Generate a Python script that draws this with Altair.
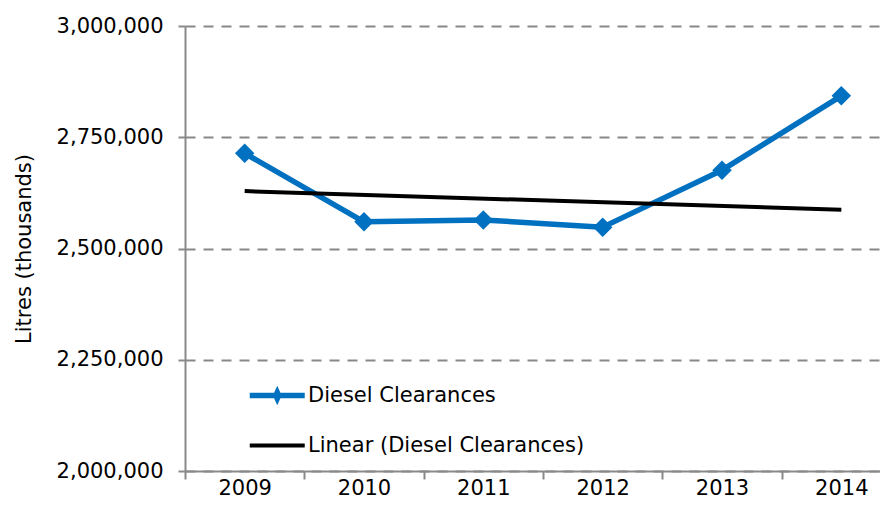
import altair as alt
import pandas as pd

years = ["2009", "2010", "2011", "2012", "2013", "2014"]
diesel = [2714000, 2560000, 2564000, 2548000, 2676000, 2843000]
trend_years = ["2009", "2014"]
trend_values = [2629000, 2587000]
y_ticks = [2000000, 2250000, 2500000, 2750000, 3000000]
series_names = ["Diesel Clearances", "Linear (Diesel Clearances)"]
colors = ["#0070C0", "#000000"]

df_d = pd.DataFrame({"year": years, "value": diesel, "series": series_names[0]})
df_t = pd.DataFrame({"year": trend_years, "value": trend_values, "series": series_names[1]})

FONT = "DejaVu Sans"
FS = 21
AXIS_GRAY = "#898989"

x_enc = alt.X(
    "year:O",
    scale=alt.Scale(type="band", domain=years, range=[0, 716], paddingInner=0, paddingOuter=0),
    axis=alt.Axis(
        title=None, tickBand="extent", labelAngle=0, grid=False,
        labelFont=FONT, labelFontSize=FS, labelColor="#000000",
        labelBaseline="alphabetic",
        domainColor=AXIS_GRAY, domainWidth=2, tickColor=AXIS_GRAY, tickWidth=2,
        tickSize=8, labelPadding=15,
    ),
)
y_enc = alt.Y(
    "value:Q",
    scale=alt.Scale(domain=[2000000, 3000000], nice=False, zero=False),
    axis=alt.Axis(
        title="Litres (thousands)", values=y_ticks, format=",d",
        labelFont=FONT, labelFontSize=FS, labelColor="#000000",
        titleFont=FONT, titleFontSize=FS, titleFontWeight="normal", titleColor="#000000",
        titleX=-161, titleY=222.5, titleBaseline="middle",
        domainColor=AXIS_GRAY, domainWidth=2, tickColor=AXIS_GRAY, tickWidth=2,
        tickSize=7, labelPadding=15,
        grid=True, gridColor="#888888", gridWidth=2, gridDash=[10, 8],
    ),
)

sel = "datum.value === 'Diesel Clearances'"
legend = alt.Legend(
    title=None, orient="none", legendX=68, legendY=359, padding=0,
    symbolType=alt.ExprRef(sel + " ? 'M-1,0L3,0M1,-0.22L1.1,0L1,0.22L0.9,0Z' : 'M-1,0L3,0'"),
    symbolStrokeWidth=alt.ExprRef(sel + " ? 5.5 : 4"),
    symbolSize=756,
    labelFont=FONT, labelFontSize=FS, labelColor="#000000", labelOffset=34,
    labelLimit=500, rowPadding=24,
)
color_enc = alt.Color("series:N", scale=alt.Scale(domain=series_names, range=colors), legend=legend)

blue = alt.Chart(df_d).mark_line(strokeWidth=5.5, strokeJoin="round").encode(x=x_enc, y=y_enc, color=color_enc)
pts = alt.Chart(df_d).mark_point(shape="diamond", filled=True, size=380, opacity=1, color="#0070C0").encode(x=x_enc, y=y_enc)
trend = alt.Chart(df_t).mark_line(strokeWidth=4).encode(x=x_enc, y=y_enc, color=color_enc)

chart = alt.layer(blue, pts, trend).properties(
    width=695, height=445,
    autosize=alt.AutoSizeParams(type="none"),
    padding={"left": 177, "top": 18, "right": 0, "bottom": 31},
    background="white",
).configure_view(stroke=None)

chart.save("out.html", embed_options={"renderer": "svg", "actions": False})
